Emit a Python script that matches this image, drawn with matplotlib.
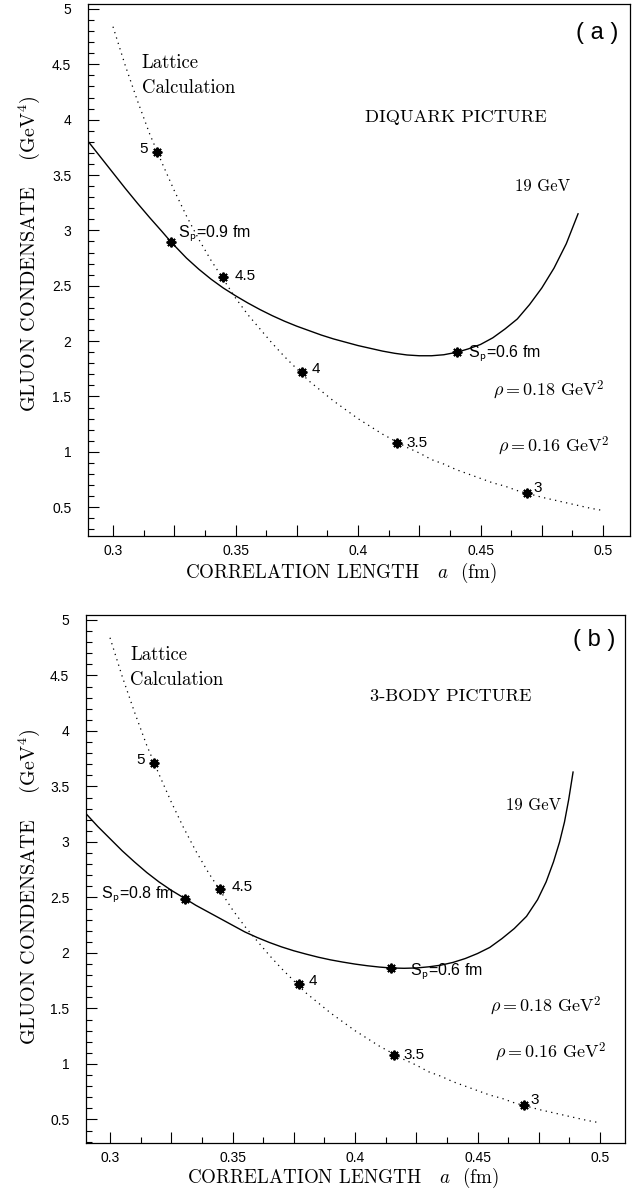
#!/usr/bin/env python3
"""
plot.py  --  gluon condensate vs correlation length, two panels
  (a) diquark picture, (b) 3-body picture
"""

import matplotlib
matplotlib.use('Agg')
import matplotlib.pyplot as plt
from matplotlib.ticker import FixedLocator, MultipleLocator, FuncFormatter

plt.rcParams['mathtext.fontset'] = 'cm'

OUT_PNG = 'out.png'

# =============================================================================
# Data
# =============================================================================
# lattice calculation (dotted curve) and its labelled points
lat_x = [0.300, 0.305, 0.310, 0.315, 0.320, 0.325, 0.330, 0.335, 0.340,
         0.345, 0.350, 0.355, 0.360, 0.365, 0.370, 0.375, 0.380, 0.385,
         0.390, 0.395, 0.400, 0.405, 0.410, 0.415, 0.420, 0.425, 0.430,
         0.435, 0.440, 0.445, 0.450, 0.455, 0.460, 0.465, 0.470, 0.475,
         0.480, 0.485, 0.490, 0.495, 0.500]
lat_y = [4.84, 4.49, 4.17, 3.87, 3.61, 3.36, 3.13, 2.92, 2.73,
         2.56, 2.39, 2.24, 2.11, 1.98, 1.86, 1.75, 1.64, 1.55,
         1.46, 1.38, 1.30, 1.23, 1.16, 1.10, 1.04, 0.99, 0.93,
         0.89, 0.84, 0.80, 0.76, 0.72, 0.69, 0.65, 0.62, 0.59,
         0.565, 0.54, 0.515, 0.49, 0.47]
lat_pt_x = [0.318, 0.345, 0.377, 0.416, 0.469]
lat_pt_y = [3.71, 2.58, 1.72, 1.08, 0.63]
lat_pt_lab = ['5', '4.5', '4', '3.5', '3']

# 19 GeV curve, diquark picture
dq_x = [0.290, 0.295, 0.300, 0.305, 0.310, 0.315, 0.320, 0.3237, 0.330,
        0.335, 0.340, 0.345, 0.350, 0.355, 0.360, 0.365, 0.370, 0.375,
        0.380, 0.385, 0.390, 0.395, 0.400, 0.405, 0.410, 0.415, 0.420,
        0.425, 0.430, 0.435, 0.4404, 0.445, 0.450, 0.455, 0.460, 0.465,
        0.470, 0.475, 0.480, 0.485, 0.4898]
dq_y = [3.80, 3.66, 3.52, 3.38, 3.245, 3.115, 2.99, 2.895, 2.75,
        2.65, 2.56, 2.48, 2.41, 2.345, 2.285, 2.23, 2.18, 2.135,
        2.095, 2.055, 2.02, 1.99, 1.96, 1.935, 1.91, 1.89, 1.875,
        1.868, 1.868, 1.877, 1.90, 1.93, 1.97, 2.03, 2.11, 2.20,
        2.33, 2.48, 2.66, 2.88, 3.15]
dq_sp_x = [0.3237, 0.4404]
dq_sp_y = [2.895, 1.90]
dq_sp_lab = ['0.9', '0.6']

# 19 GeV curve, 3-body picture
tb_x = [0.290, 0.295, 0.300, 0.305, 0.310, 0.315, 0.320, 0.325, 0.3306,
        0.335, 0.340, 0.345, 0.350, 0.355, 0.360, 0.365, 0.370, 0.375,
        0.380, 0.385, 0.390, 0.395, 0.400, 0.405, 0.410, 0.4147, 0.420,
        0.425, 0.430, 0.435, 0.440, 0.445, 0.450, 0.455, 0.460, 0.465,
        0.470, 0.4745, 0.478, 0.481, 0.4835, 0.4855, 0.4872, 0.4885, 0.489]
tb_y = [3.26, 3.14, 3.03, 2.92, 2.82, 2.725, 2.64, 2.565, 2.49,
        2.43, 2.37, 2.31, 2.25, 2.19, 2.14, 2.095, 2.055, 2.02,
        1.99, 1.962, 1.938, 1.918, 1.90, 1.885, 1.873, 1.865, 1.862,
        1.865, 1.875, 1.89, 1.915, 1.95, 1.995, 2.05, 2.13, 2.22,
        2.33, 2.48, 2.64, 2.82, 3.00, 3.18, 3.38, 3.56, 3.63]
tb_sp_x = [0.3306, 0.4147]
tb_sp_y = [2.49, 1.865]
tb_sp_lab = ['0.8', '0.6']

SANS  = 'Liberation Sans'
SERIF = 'cmr10'
STAR  = (8, 2, 0)


# =============================================================================
# Common axis styling
# =============================================================================
def style_axis(ax, xlim, ylim, ylab_xy):
    ax.set_xlim(*xlim)
    ax.set_ylim(*ylim)
    for s in ax.spines.values():
        s.set_linewidth(0.9)

    xmaj = [0.3 + 0.025 * i for i in range(9)]
    ax.xaxis.set_major_locator(FixedLocator(xmaj))
    ax.xaxis.set_minor_locator(MultipleLocator(0.0125))
    ax.xaxis.set_major_formatter(FuncFormatter(
        lambda v, p: ('%g' % round(v, 3)) if abs(v * 20 - round(v * 20)) < 1e-6 else ''))
    ax.yaxis.set_major_locator(MultipleLocator(0.5))
    ax.yaxis.set_minor_locator(MultipleLocator(0.1))
    ax.yaxis.set_major_formatter(FuncFormatter(lambda v, p: '%g' % v))

    ax.tick_params(which='both', direction='in', top=False, right=False,
                   width=0.8, labelsize=10)
    ax.tick_params(which='major', length=8)
    ax.tick_params(which='minor', length=4)
    ax.tick_params(axis='x', pad=6)
    ax.tick_params(axis='y', pad=12)
    for lab in ax.get_xticklabels() + ax.get_yticklabels():
        lab.set_family(SANS)

    ax.set_ylabel('GLUON CONDENSATE    (GeV$^4$)', family=SERIF, fontsize=14.5)
    ax.yaxis.set_label_coords(*ylab_xy)


def draw_lattice(ax):
    ax.plot(lat_x, lat_y, color='black', lw=0.9, ls=(0, (1, 3.5)))
    ax.plot(lat_pt_x, lat_pt_y, ls='none', marker=STAR, ms=7, mew=1.4,
            color='black')
    offs = [(-7, 2), (8, 1), (7, 2), (6.5, 0), (4.5, 3.5)]
    for x, y, t, (dx, dy) in zip(lat_pt_x, lat_pt_y, lat_pt_lab, offs):
        ax.annotate(t, (x, y), xytext=(dx, dy), textcoords='offset points',
                    ha='left' if dx > 0 else 'right', va='center',
                    family=SANS, fontsize=11)


def draw_panel(ax, cx, cy, spx, spy, splab, sp_offs, tag, tag_y, title,
               title_xy, lat_xy, gev_xy, rho_y):
    draw_lattice(ax)
    ax.plot(cx, cy, color='black', lw=1.0)
    ax.plot(spx, spy, ls='none', marker=STAR, ms=7, mew=1.4, color='black')
    for x, y, t, (dx, dy, ha) in zip(spx, spy, splab, sp_offs):
        ax.annotate('S$_\\mathsf{p}$=%s fm' % t, (x, y), xytext=(dx, dy),
                    textcoords='offset points', ha=ha, va='center',
                    family=SANS, fontsize=11.5)

    ax.text(lat_xy[0], lat_xy[1], 'Lattice', family=SERIF,
            fontsize=13.5, va='center', ha='left')
    ax.text(lat_xy[0], lat_xy[2], 'Calculation', family=SERIF,
            fontsize=13.5, va='center', ha='left')
    ax.text(title_xy[0], title_xy[1], title, family=SERIF, fontsize=13.2,
            va='center', ha='left')
    ax.text(0.4975, tag_y, tag, family=SANS, fontsize=17, va='center',
            ha='center')
    ax.text(gev_xy[0], gev_xy[1], '19 GeV', family=SERIF, fontsize=12,
            va='center', ha='center')
    ax.text(0.455, rho_y[0], r'$\rho = 0.18\ \mathrm{GeV}^2$', fontsize=13,
            va='center', ha='left')
    ax.text(0.457, rho_y[1], r'$\rho = 0.16\ \mathrm{GeV}^2$', fontsize=13,
            va='center', ha='left')


# =============================================================================
# Main
# =============================================================================
def main():
    fig = plt.figure(figsize=(6.39, 11.95), dpi=100)
    W, H = 639.0, 1195.0

    ax_a = fig.add_axes([88 / W, 1 - 536 / H, 542 / W, 532 / H])
    ax_b = fig.add_axes([86 / W, 1 - 1143 / H, 539 / W, 528 / H])

    style_axis(ax_a, (0.2898, 0.511), (0.24, 5.045), (-0.085, 0.53))
    style_axis(ax_b, (0.2902, 0.5102), (0.288, 5.045), (-0.082, 0.485))

    draw_panel(ax_a, dq_x, dq_y, dq_sp_x, dq_sp_y, dq_sp_lab,
               [(5, 6, 'left'), (8, -1, 'left')], '( a )', 4.78,
               'DIQUARK PICTURE', (0.403, 4.02), (0.3118, 4.51, 4.29),
               (0.4755, 3.40), (1.56, 1.06))
    draw_panel(ax_b, tb_x, tb_y, tb_sp_x, tb_sp_y, tb_sp_lab,
               [(-8, 3, 'right'), (14, -3, 'left')], '( b )', 4.82,
               '3-BODY PICTURE', (0.406, 4.31), (0.3082, 4.685, 4.46),
               (0.4727, 3.33), (1.53, 1.11))

    fig.text(341 / W, 1 - 573 / H, 'CORRELATION LENGTH   $a$  (fm)',
             family=SERIF, fontsize=13.7, ha='center', va='center')
    fig.text(343 / W, 1 - 1178 / H, 'CORRELATION LENGTH   $a$  (fm)',
             family=SERIF, fontsize=13.7, ha='center', va='center')

    fig.savefig(OUT_PNG, dpi=100)
    plt.close(fig)


if __name__ == '__main__':
    main()
